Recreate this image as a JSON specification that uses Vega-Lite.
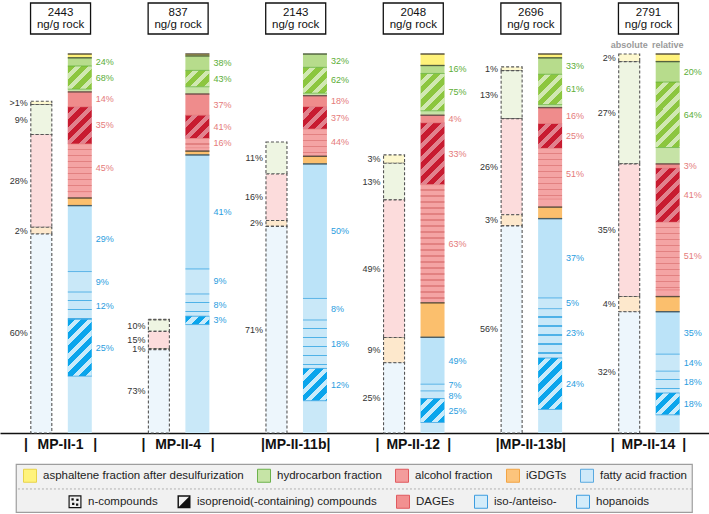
{
  "$schema": "https://vega.github.io/schema/vega-lite/v6.json",
  "padding": {"left": 0, "top": 2, "right": 0, "bottom": 0},
  "background": "white",
  "config": {"view": {"stroke": null}, "font": "Liberation Sans"},
  "params": [
    {"name": "stripeStops", "value": [
      {"offset": 0, "color": "rgba(255,255,255,0)"}, {"offset": 0.06875, "color": "rgba(255,255,255,0)"}, {"offset": 0.06875, "color": "#ffffff"}, {"offset": 0.125, "color": "#ffffff"},
      {"offset": 0.125, "color": "rgba(255,255,255,0)"}, {"offset": 0.19375, "color": "rgba(255,255,255,0)"}, {"offset": 0.19375, "color": "#ffffff"}, {"offset": 0.25, "color": "#ffffff"},
      {"offset": 0.25, "color": "rgba(255,255,255,0)"}, {"offset": 0.31875, "color": "rgba(255,255,255,0)"}, {"offset": 0.31875, "color": "#ffffff"}, {"offset": 0.375, "color": "#ffffff"},
      {"offset": 0.375, "color": "rgba(255,255,255,0)"}, {"offset": 0.44375, "color": "rgba(255,255,255,0)"}, {"offset": 0.44375, "color": "#ffffff"}, {"offset": 0.5, "color": "#ffffff"},
      {"offset": 0.5, "color": "rgba(255,255,255,0)"}, {"offset": 0.56875, "color": "rgba(255,255,255,0)"}, {"offset": 0.56875, "color": "#ffffff"}, {"offset": 0.625, "color": "#ffffff"},
      {"offset": 0.625, "color": "rgba(255,255,255,0)"}, {"offset": 0.69375, "color": "rgba(255,255,255,0)"}, {"offset": 0.69375, "color": "#ffffff"}, {"offset": 0.75, "color": "#ffffff"},
      {"offset": 0.75, "color": "rgba(255,255,255,0)"}, {"offset": 0.81875, "color": "rgba(255,255,255,0)"}, {"offset": 0.81875, "color": "#ffffff"}, {"offset": 0.875, "color": "#ffffff"},
      {"offset": 0.875, "color": "rgba(255,255,255,0)"}, {"offset": 0.94375, "color": "rgba(255,255,255,0)"}, {"offset": 0.94375, "color": "#ffffff"}, {"offset": 1, "color": "#ffffff"}
    ]},
    {"name": "dageStops", "value": [
      {"offset": 0, "color": "rgba(184,48,48,0)"}, {"offset": 0.04, "color": "rgba(184,48,48,0)"}, {"offset": 0.04, "color": "#b83030"}, {"offset": 0.05, "color": "#b83030"},
      {"offset": 0.05, "color": "rgba(184,48,48,0)"}, {"offset": 0.09, "color": "rgba(184,48,48,0)"}, {"offset": 0.09, "color": "#b83030"}, {"offset": 0.1, "color": "#b83030"},
      {"offset": 0.1, "color": "rgba(184,48,48,0)"}, {"offset": 0.14, "color": "rgba(184,48,48,0)"}, {"offset": 0.14, "color": "#b83030"}, {"offset": 0.15, "color": "#b83030"},
      {"offset": 0.15, "color": "rgba(184,48,48,0)"}, {"offset": 0.19, "color": "rgba(184,48,48,0)"}, {"offset": 0.19, "color": "#b83030"}, {"offset": 0.2, "color": "#b83030"},
      {"offset": 0.2, "color": "rgba(184,48,48,0)"}, {"offset": 0.24, "color": "rgba(184,48,48,0)"}, {"offset": 0.24, "color": "#b83030"}, {"offset": 0.25, "color": "#b83030"},
      {"offset": 0.25, "color": "rgba(184,48,48,0)"}, {"offset": 0.29, "color": "rgba(184,48,48,0)"}, {"offset": 0.29, "color": "#b83030"}, {"offset": 0.3, "color": "#b83030"},
      {"offset": 0.3, "color": "rgba(184,48,48,0)"}, {"offset": 0.34, "color": "rgba(184,48,48,0)"}, {"offset": 0.34, "color": "#b83030"}, {"offset": 0.35, "color": "#b83030"},
      {"offset": 0.35, "color": "rgba(184,48,48,0)"}, {"offset": 0.39, "color": "rgba(184,48,48,0)"}, {"offset": 0.39, "color": "#b83030"}, {"offset": 0.4, "color": "#b83030"},
      {"offset": 0.4, "color": "rgba(184,48,48,0)"}, {"offset": 0.44, "color": "rgba(184,48,48,0)"}, {"offset": 0.44, "color": "#b83030"}, {"offset": 0.45, "color": "#b83030"},
      {"offset": 0.45, "color": "rgba(184,48,48,0)"}, {"offset": 0.49, "color": "rgba(184,48,48,0)"}, {"offset": 0.49, "color": "#b83030"}, {"offset": 0.5, "color": "#b83030"},
      {"offset": 0.5, "color": "rgba(184,48,48,0)"}, {"offset": 0.54, "color": "rgba(184,48,48,0)"}, {"offset": 0.54, "color": "#b83030"}, {"offset": 0.55, "color": "#b83030"},
      {"offset": 0.55, "color": "rgba(184,48,48,0)"}, {"offset": 0.59, "color": "rgba(184,48,48,0)"}, {"offset": 0.59, "color": "#b83030"}, {"offset": 0.6, "color": "#b83030"},
      {"offset": 0.6, "color": "rgba(184,48,48,0)"}, {"offset": 0.64, "color": "rgba(184,48,48,0)"}, {"offset": 0.64, "color": "#b83030"}, {"offset": 0.65, "color": "#b83030"},
      {"offset": 0.65, "color": "rgba(184,48,48,0)"}, {"offset": 0.69, "color": "rgba(184,48,48,0)"}, {"offset": 0.69, "color": "#b83030"}, {"offset": 0.7, "color": "#b83030"},
      {"offset": 0.7, "color": "rgba(184,48,48,0)"}, {"offset": 0.74, "color": "rgba(184,48,48,0)"}, {"offset": 0.74, "color": "#b83030"}, {"offset": 0.75, "color": "#b83030"},
      {"offset": 0.75, "color": "rgba(184,48,48,0)"}, {"offset": 0.79, "color": "rgba(184,48,48,0)"}, {"offset": 0.79, "color": "#b83030"}, {"offset": 0.8, "color": "#b83030"},
      {"offset": 0.8, "color": "rgba(184,48,48,0)"}, {"offset": 0.84, "color": "rgba(184,48,48,0)"}, {"offset": 0.84, "color": "#b83030"}, {"offset": 0.85, "color": "#b83030"},
      {"offset": 0.85, "color": "rgba(184,48,48,0)"}, {"offset": 0.89, "color": "rgba(184,48,48,0)"}, {"offset": 0.89, "color": "#b83030"}, {"offset": 0.9, "color": "#b83030"},
      {"offset": 0.9, "color": "rgba(184,48,48,0)"}, {"offset": 0.94, "color": "rgba(184,48,48,0)"}, {"offset": 0.94, "color": "#b83030"}, {"offset": 0.95, "color": "#b83030"},
      {"offset": 0.95, "color": "rgba(184,48,48,0)"}, {"offset": 0.99, "color": "rgba(184,48,48,0)"}, {"offset": 0.99, "color": "#b83030"}, {"offset": 1, "color": "#b83030"}
    ]},
    {"name": "hopStops", "value": [
      {"offset": 0, "color": "rgba(27,155,224,0)"}, {"offset": 0.10625, "color": "rgba(27,155,224,0)"}, {"offset": 0.10625, "color": "#1b9be0"}, {"offset": 0.125, "color": "#1b9be0"},
      {"offset": 0.125, "color": "rgba(27,155,224,0)"}, {"offset": 0.23125, "color": "rgba(27,155,224,0)"}, {"offset": 0.23125, "color": "#1b9be0"}, {"offset": 0.25, "color": "#1b9be0"},
      {"offset": 0.25, "color": "rgba(27,155,224,0)"}, {"offset": 0.35625, "color": "rgba(27,155,224,0)"}, {"offset": 0.35625, "color": "#1b9be0"}, {"offset": 0.375, "color": "#1b9be0"},
      {"offset": 0.375, "color": "rgba(27,155,224,0)"}, {"offset": 0.48125, "color": "rgba(27,155,224,0)"}, {"offset": 0.48125, "color": "#1b9be0"}, {"offset": 0.5, "color": "#1b9be0"},
      {"offset": 0.5, "color": "rgba(27,155,224,0)"}, {"offset": 0.60625, "color": "rgba(27,155,224,0)"}, {"offset": 0.60625, "color": "#1b9be0"}, {"offset": 0.625, "color": "#1b9be0"},
      {"offset": 0.625, "color": "rgba(27,155,224,0)"}, {"offset": 0.73125, "color": "rgba(27,155,224,0)"}, {"offset": 0.73125, "color": "#1b9be0"}, {"offset": 0.75, "color": "#1b9be0"},
      {"offset": 0.75, "color": "rgba(27,155,224,0)"}, {"offset": 0.85625, "color": "rgba(27,155,224,0)"}, {"offset": 0.85625, "color": "#1b9be0"}, {"offset": 0.875, "color": "#1b9be0"},
      {"offset": 0.875, "color": "rgba(27,155,224,0)"}, {"offset": 0.98125, "color": "rgba(27,155,224,0)"}, {"offset": 0.98125, "color": "#1b9be0"}, {"offset": 1, "color": "#1b9be0"}
    ]}
  ],
  "datasets": {
    "samples": [
      {"sample": "MP-II-1", "conc": 2443},
      {"sample": "MP-II-4", "conc": 837},
      {"sample": "MP-II-11b", "conc": 2143},
      {"sample": "MP-II-12", "conc": 2048},
      {"sample": "MP-II-13b", "conc": 2696},
      {"sample": "MP-II-14", "conc": 2791}
    ],
    "fractions": [
      {"sample": "MP-II-1", "frac": "asph", "share": 1, "label": ">1%"},
      {"sample": "MP-II-1", "frac": "hc", "share": 9, "label": "9%"},
      {"sample": "MP-II-1", "frac": "alc", "share": 28, "label": "28%"},
      {"sample": "MP-II-1", "frac": "gdgt", "share": 2, "label": "2%"},
      {"sample": "MP-II-1", "frac": "fa", "share": 60, "label": "60%"},
      {"sample": "MP-II-4", "frac": "asph", "share": 0.5, "label": ""},
      {"sample": "MP-II-4", "frac": "hc", "share": 10, "label": "10%"},
      {"sample": "MP-II-4", "frac": "alc", "share": 15, "label": "15%"},
      {"sample": "MP-II-4", "frac": "gdgt", "share": 1, "label": "1%"},
      {"sample": "MP-II-4", "frac": "fa", "share": 73, "label": "73%"},
      {"sample": "MP-II-11b", "frac": "hc", "share": 11, "label": "11%"},
      {"sample": "MP-II-11b", "frac": "alc", "share": 16, "label": "16%"},
      {"sample": "MP-II-11b", "frac": "gdgt", "share": 2, "label": "2%"},
      {"sample": "MP-II-11b", "frac": "fa", "share": 71, "label": "71%"},
      {"sample": "MP-II-12", "frac": "asph", "share": 3, "label": "3%"},
      {"sample": "MP-II-12", "frac": "hc", "share": 13, "label": "13%"},
      {"sample": "MP-II-12", "frac": "alc", "share": 49, "label": "49%"},
      {"sample": "MP-II-12", "frac": "gdgt", "share": 9, "label": "9%"},
      {"sample": "MP-II-12", "frac": "fa", "share": 25, "label": "25%"},
      {"sample": "MP-II-13b", "frac": "asph", "share": 1, "label": "1%"},
      {"sample": "MP-II-13b", "frac": "hc", "share": 13, "label": "13%"},
      {"sample": "MP-II-13b", "frac": "alc", "share": 26, "label": "26%"},
      {"sample": "MP-II-13b", "frac": "gdgt", "share": 3, "label": "3%"},
      {"sample": "MP-II-13b", "frac": "fa", "share": 56, "label": "56%"},
      {"sample": "MP-II-14", "frac": "asph", "share": 2, "label": "2%"},
      {"sample": "MP-II-14", "frac": "hc", "share": 27, "label": "27%"},
      {"sample": "MP-II-14", "frac": "alc", "share": 35, "label": "35%"},
      {"sample": "MP-II-14", "frac": "gdgt", "share": 4, "label": "4%"},
      {"sample": "MP-II-14", "frac": "fa", "share": 32, "label": "32%"}
    ],
    "parts": [
      {"sample": "MP-II-1", "frac": "asph", "share": 1, "comp": "all", "pct": 100},
      {"sample": "MP-II-1", "frac": "hc", "share": 9, "comp": "n", "pct": 24},
      {"sample": "MP-II-1", "frac": "hc", "share": 9, "comp": "iso", "pct": 68},
      {"sample": "MP-II-1", "frac": "hc", "share": 9, "comp": "rest", "pct": 8},
      {"sample": "MP-II-1", "frac": "alc", "share": 28, "comp": "n", "pct": 14},
      {"sample": "MP-II-1", "frac": "alc", "share": 28, "comp": "iso", "pct": 35},
      {"sample": "MP-II-1", "frac": "alc", "share": 28, "comp": "dage", "pct": 45},
      {"sample": "MP-II-1", "frac": "alc", "share": 28, "comp": "rest", "pct": 6},
      {"sample": "MP-II-1", "frac": "gdgt", "share": 2, "comp": "all", "pct": 100},
      {"sample": "MP-II-1", "frac": "fa", "share": 60, "comp": "n", "pct": 29},
      {"sample": "MP-II-1", "frac": "fa", "share": 60, "comp": "ia", "pct": 9},
      {"sample": "MP-II-1", "frac": "fa", "share": 60, "comp": "hop", "pct": 12},
      {"sample": "MP-II-1", "frac": "fa", "share": 60, "comp": "iso", "pct": 25},
      {"sample": "MP-II-1", "frac": "fa", "share": 60, "comp": "rest", "pct": 25},

      {"sample": "MP-II-4", "frac": "asph", "share": 0.5, "comp": "all", "pct": 100},
      {"sample": "MP-II-4", "frac": "hc", "share": 10, "comp": "n", "pct": 38},
      {"sample": "MP-II-4", "frac": "hc", "share": 10, "comp": "iso", "pct": 43},
      {"sample": "MP-II-4", "frac": "hc", "share": 10, "comp": "rest", "pct": 19},
      {"sample": "MP-II-4", "frac": "alc", "share": 15, "comp": "n", "pct": 37},
      {"sample": "MP-II-4", "frac": "alc", "share": 15, "comp": "iso", "pct": 41},
      {"sample": "MP-II-4", "frac": "alc", "share": 15, "comp": "dage", "pct": 16},
      {"sample": "MP-II-4", "frac": "alc", "share": 15, "comp": "rest", "pct": 6},
      {"sample": "MP-II-4", "frac": "gdgt", "share": 1, "comp": "all", "pct": 100},
      {"sample": "MP-II-4", "frac": "fa", "share": 73, "comp": "n", "pct": 41},
      {"sample": "MP-II-4", "frac": "fa", "share": 73, "comp": "ia", "pct": 9},
      {"sample": "MP-II-4", "frac": "fa", "share": 73, "comp": "hop", "pct": 8},
      {"sample": "MP-II-4", "frac": "fa", "share": 73, "comp": "iso", "pct": 3},
      {"sample": "MP-II-4", "frac": "fa", "share": 73, "comp": "rest", "pct": 39},

      {"sample": "MP-II-11b", "frac": "hc", "share": 11, "comp": "n", "pct": 32},
      {"sample": "MP-II-11b", "frac": "hc", "share": 11, "comp": "iso", "pct": 62},
      {"sample": "MP-II-11b", "frac": "hc", "share": 11, "comp": "rest", "pct": 6},
      {"sample": "MP-II-11b", "frac": "alc", "share": 16, "comp": "n", "pct": 18},
      {"sample": "MP-II-11b", "frac": "alc", "share": 16, "comp": "iso", "pct": 37},
      {"sample": "MP-II-11b", "frac": "alc", "share": 16, "comp": "dage", "pct": 44},
      {"sample": "MP-II-11b", "frac": "alc", "share": 16, "comp": "rest", "pct": 1},
      {"sample": "MP-II-11b", "frac": "gdgt", "share": 2, "comp": "all", "pct": 100},
      {"sample": "MP-II-11b", "frac": "fa", "share": 71, "comp": "n", "pct": 50},
      {"sample": "MP-II-11b", "frac": "fa", "share": 71, "comp": "ia", "pct": 8},
      {"sample": "MP-II-11b", "frac": "fa", "share": 71, "comp": "hop", "pct": 18},
      {"sample": "MP-II-11b", "frac": "fa", "share": 71, "comp": "iso", "pct": 12},
      {"sample": "MP-II-11b", "frac": "fa", "share": 71, "comp": "rest", "pct": 12},

      {"sample": "MP-II-12", "frac": "asph", "share": 3, "comp": "all", "pct": 100},
      {"sample": "MP-II-12", "frac": "hc", "share": 13, "comp": "n", "pct": 16},
      {"sample": "MP-II-12", "frac": "hc", "share": 13, "comp": "iso", "pct": 75},
      {"sample": "MP-II-12", "frac": "hc", "share": 13, "comp": "rest", "pct": 9},
      {"sample": "MP-II-12", "frac": "alc", "share": 49, "comp": "n", "pct": 4},
      {"sample": "MP-II-12", "frac": "alc", "share": 49, "comp": "iso", "pct": 33},
      {"sample": "MP-II-12", "frac": "alc", "share": 49, "comp": "dage", "pct": 63},
      {"sample": "MP-II-12", "frac": "gdgt", "share": 9, "comp": "all", "pct": 100},
      {"sample": "MP-II-12", "frac": "fa", "share": 25, "comp": "n", "pct": 49},
      {"sample": "MP-II-12", "frac": "fa", "share": 25, "comp": "ia", "pct": 7},
      {"sample": "MP-II-12", "frac": "fa", "share": 25, "comp": "hop", "pct": 8},
      {"sample": "MP-II-12", "frac": "fa", "share": 25, "comp": "iso", "pct": 25},
      {"sample": "MP-II-12", "frac": "fa", "share": 25, "comp": "rest", "pct": 11},

      {"sample": "MP-II-13b", "frac": "asph", "share": 1, "comp": "all", "pct": 100},
      {"sample": "MP-II-13b", "frac": "hc", "share": 13, "comp": "n", "pct": 33},
      {"sample": "MP-II-13b", "frac": "hc", "share": 13, "comp": "iso", "pct": 61},
      {"sample": "MP-II-13b", "frac": "hc", "share": 13, "comp": "rest", "pct": 6},
      {"sample": "MP-II-13b", "frac": "alc", "share": 26, "comp": "n", "pct": 16},
      {"sample": "MP-II-13b", "frac": "alc", "share": 26, "comp": "iso", "pct": 25},
      {"sample": "MP-II-13b", "frac": "alc", "share": 26, "comp": "dage", "pct": 51},
      {"sample": "MP-II-13b", "frac": "alc", "share": 26, "comp": "rest", "pct": 8},
      {"sample": "MP-II-13b", "frac": "gdgt", "share": 3, "comp": "all", "pct": 100},
      {"sample": "MP-II-13b", "frac": "fa", "share": 56, "comp": "n", "pct": 37},
      {"sample": "MP-II-13b", "frac": "fa", "share": 56, "comp": "ia", "pct": 5},
      {"sample": "MP-II-13b", "frac": "fa", "share": 56, "comp": "hop", "pct": 23},
      {"sample": "MP-II-13b", "frac": "fa", "share": 56, "comp": "iso", "pct": 24},
      {"sample": "MP-II-13b", "frac": "fa", "share": 56, "comp": "rest", "pct": 11},

      {"sample": "MP-II-14", "frac": "asph", "share": 2, "comp": "all", "pct": 100},
      {"sample": "MP-II-14", "frac": "hc", "share": 27, "comp": "n", "pct": 20},
      {"sample": "MP-II-14", "frac": "hc", "share": 27, "comp": "iso", "pct": 64},
      {"sample": "MP-II-14", "frac": "hc", "share": 27, "comp": "rest", "pct": 16},
      {"sample": "MP-II-14", "frac": "alc", "share": 35, "comp": "n", "pct": 3},
      {"sample": "MP-II-14", "frac": "alc", "share": 35, "comp": "iso", "pct": 41},
      {"sample": "MP-II-14", "frac": "alc", "share": 35, "comp": "dage", "pct": 51},
      {"sample": "MP-II-14", "frac": "alc", "share": 35, "comp": "rest", "pct": 5},
      {"sample": "MP-II-14", "frac": "gdgt", "share": 4, "comp": "all", "pct": 100},
      {"sample": "MP-II-14", "frac": "fa", "share": 32, "comp": "n", "pct": 35},
      {"sample": "MP-II-14", "frac": "fa", "share": 32, "comp": "ia", "pct": 14},
      {"sample": "MP-II-14", "frac": "fa", "share": 32, "comp": "hop", "pct": 18},
      {"sample": "MP-II-14", "frac": "fa", "share": 32, "comp": "iso", "pct": 18},
      {"sample": "MP-II-14", "frac": "fa", "share": 32, "comp": "rest", "pct": 15}
    ]
  },
  "center": true,
  "spacing": 12,
  "vconcat": [
    {
      "bounds": "flush",
      "spacing": 20,
      "vconcat": [
        {
          "width": 709,
          "height": 31,
          "data": {"name": "samples"},
          "encoding": {
            "x": {"field": "sample", "type": "nominal",
                  "scale": {"domain": ["MP-II-1", "MP-II-4", "MP-II-11b", "MP-II-12", "MP-II-13b", "MP-II-14"], "paddingInner": 0, "paddingOuter": 0.015},
                  "axis": null}
          },
          "layer": [
            {"mark": {"type": "bar", "width": 60, "fill": "#ffffff", "stroke": "#111111", "strokeWidth": 1.3}},
            {"mark": {"type": "text", "fontSize": 11.5, "dy": -6, "fill": "#111111"},
             "encoding": {"text": {"field": "conc", "type": "quantitative", "format": "d"}}},
            {"mark": {"type": "text", "fontSize": 11.5, "dy": 6.5, "fill": "#111111", "text": "ng/g rock"}}
          ]
        },
        {
          "width": 709,
          "height": 379,
          "encoding": {
            "x": {"field": "sample", "type": "nominal",
                  "scale": {"domain": ["MP-II-1", "MP-II-4", "MP-II-11b", "MP-II-12", "MP-II-13b", "MP-II-14"], "paddingInner": 0, "paddingOuter": 0.015},
                  "axis": {"title": null, "ticks": false, "domainColor": "#111111", "domainWidth": 1.6,
                           "labelFont": "Liberation Sans", "labelFontWeight": "bold", "labelFontSize": 14,
                           "labelColor": "#111111", "labelPadding": 4, "labelAngle": 0,
                           "labelExpr": "(datum.value == 'MP-II-11b' || datum.value == 'MP-II-13b') ? '|' + datum.value + '|' : (length(datum.value) > 7 ? '|\u2002' + datum.value + '\u2002|' : '|\u2002\u2009' + datum.value + '\u2009\u2002|')"}},
            "xOffset": {"field": "type", "type": "nominal",
                        "scale": {"domain": ["abs", "rel"], "paddingInner": 0.377, "paddingOuter": 0.716}}
          },
          "layer": [
            {
              "data": {"name": "fractions"},
              "transform": [
                {"lookup": "sample", "from": {"data": {"name": "samples"}, "key": "sample", "fields": ["conc"]}},
                {"calculate": "indexof(['fa','gdgt','alc','hc','asph'], datum.frac)", "as": "ord"},
                {"calculate": "'abs'", "as": "type"},
                {"stack": "share", "groupby": ["sample"], "sort": [{"field": "ord", "order": "ascending"}], "offset": "normalize", "as": ["n0", "n1"]},
                {"calculate": "datum.n0 * datum.conc", "as": "a0"},
                {"calculate": "datum.n1 * datum.conc", "as": "a1"},
                {"calculate": "(datum.a0 + datum.a1) / 2", "as": "amid"}
              ],
              "layer": [
                {"mark": {"type": "bar", "width": 21, "stroke": "#555555", "strokeWidth": 1.1, "strokeDash": [3, 2]},
                 "encoding": {
                   "y": {"field": "a0", "type": "quantitative", "scale": {"domain": [0, 2791], "nice": false}, "axis": null},
                   "y2": {"field": "a1"},
                   "fill": {"field": "frac", "type": "nominal",
                            "scale": {"domain": ["asph", "hc", "alc", "gdgt", "fa"], "range": ["#fdf8cf", "#eef5e2", "#fcdcdc", "#fde8cc", "#edf6fc"]},
                            "legend": null}
                 }},
                {"transform": [{"filter": "datum.label != ''"}],
                 "mark": {"type": "text", "align": "right", "baseline": "middle", "dx": -13.5, "fontSize": 9, "fill": "#333333"},
                 "encoding": {
                   "y": {"field": "amid", "type": "quantitative", "scale": {"domain": [0, 2791], "nice": false}, "axis": null},
                   "text": {"field": "label"}
                 }}
              ]
            },
            {
              "data": {"name": "parts"},
              "transform": [
                {"calculate": "indexof(['fa','gdgt','alc','hc','asph'], datum.frac) * 10 + indexof(['rest','dage','iso','hop','ia','n'], datum.comp)", "as": "ord"},
                {"calculate": "'rel'", "as": "type"},
                {"calculate": "datum.share * datum.pct / 100", "as": "seg"},
                {"calculate": "datum.frac + '|' + datum.comp", "as": "key"},
                {"stack": "seg", "groupby": ["sample"], "sort": [{"field": "ord", "order": "ascending"}], "offset": "normalize", "as": ["r0", "r1"]},
                {"calculate": "(datum.r0 + datum.r1) / 2", "as": "rmid"},
                {"calculate": "(datum.r1 - datum.r0) * 379", "as": "hpx"},
                {"calculate": "datum.pct + '%'", "as": "lab"}
              ],
              "encoding": {
                "y": {"field": "r0", "type": "quantitative", "scale": {"domain": [0, 1], "nice": false}, "axis": null},
                "y2": {"field": "r1"}
              },
              "layer": [
                {"mark": {"type": "bar"},
                 "encoding": {
                   "fill": {"field": "key", "type": "nominal",
                            "scale": {"domain": ["asph|all", "hc|n", "hc|iso", "hc|rest", "alc|n", "alc|iso", "alc|dage", "alc|rest", "gdgt|all", "fa|n", "fa|ia", "fa|hop", "fa|iso", "fa|rest"],
                                      "range": ["#fff27a", "#b7dc8c", "#8cc63f", "#c6e3a6", "#ef8c8c", "#c81b30", "#f4a4a4", "#f5a6a6", "#fbbf6d", "#bbe3f8", "#c9e8f8", "#c9e8f8", "#0aa5ec", "#c9e8f8"]},
                            "legend": null}
                 }},
                {"transform": [{"filter": "datum.comp == 'iso'"}],
                 "mark": {"type": "bar"},
                 "encoding": {
                   "fill": {"value": {"expr": "{gradient: 'linear', x1: 0, y1: 0, x2: 107.48 * 24 / (576 + datum.hpx * datum.hpx), y2: 107.48 * datum.hpx / (576 + datum.hpx * datum.hpx), stops: stripeStops}"}},
                   "fillOpacity": {"condition": [{"test": "datum.frac == 'hc'", "value": 0.6}, {"test": "datum.frac == 'alc'", "value": 0.45}], "value": 0.78}
                 }},
                {"transform": [{"filter": "datum.comp == 'dage'"}],
                 "mark": {"type": "bar", "fillOpacity": 0.3},
                 "encoding": {
                   "fill": {"value": {"expr": "{gradient: 'linear', x1: 0, y1: 0, x2: 0.000001, y2: 120 / datum.hpx, stops: dageStops}"}}
                 }},
                {"transform": [{"filter": "datum.comp == 'hop'"}],
                 "mark": {"type": "bar", "fillOpacity": 0.7},
                 "encoding": {
                   "fill": {"value": {"expr": "{gradient: 'linear', x1: 0, y1: 0, x2: 0.000001, y2: 72 / datum.hpx, stops: hopStops}"}}
                 }},
                {"mark": {"type": "tick", "thickness": 1, "size": 24},
                 "encoding": {
                   "y": {"field": "r1", "type": "quantitative", "scale": {"domain": [0, 1], "nice": false}, "axis": null},
                   "y2": null,
                   "color": {"field": "frac", "type": "nominal",
                             "scale": {"domain": ["asph", "hc", "alc", "gdgt", "fa"], "range": ["#6b5e2a", "#5cae37", "#e57b7b", "#8a6a3a", "#2a9de0"]},
                             "legend": null}
                 }},
                {"transform": [{"filter": "datum.comp != 'rest' && datum.comp != 'all'"}],
                 "mark": {"type": "text", "align": "left", "baseline": "middle", "dx": 16, "fontSize": 9,
                          "dy": {"expr": "datum.comp == 'ia' && datum.hpx < 8 ? -2.5 : (datum.comp == 'hop' && datum.hpx < 9 ? 1 : 0)"}},
                 "encoding": {
                   "y": {"field": "rmid", "type": "quantitative", "scale": {"domain": [0, 1], "nice": false}, "axis": null},
                   "y2": null,
                   "text": {"field": "lab"},
                   "color": {"field": "frac", "type": "nominal",
                             "scale": {"domain": ["hc", "alc", "fa"], "range": ["#36a94a", "#e2343f", "#3a94d6"]},
                             "legend": null}
                 }}
              ]
            },
            {
              "data": {"name": "fractions"},
              "transform": [
                {"calculate": "indexof(['fa','gdgt','alc','hc','asph'], datum.frac)", "as": "ord"},
                {"calculate": "'rel'", "as": "type"},
                {"stack": "share", "groupby": ["sample"], "sort": [{"field": "ord", "order": "ascending"}], "offset": "normalize", "as": ["n0", "n1"]}
              ],
              "mark": {"type": "tick", "thickness": 1.4, "size": 24, "color": "#3d3933"},
              "encoding": {
                "y": {"field": "n1", "type": "quantitative", "scale": {"domain": [0, 1], "nice": false}, "axis": null}
              }
            },
            {
              "data": {"values": [
                {"sample": "MP-II-14", "type": "abs", "head": "absolute"},
                {"sample": "MP-II-14", "type": "rel", "head": "relative"}
              ]},
              "mark": {"type": "text", "fontSize": 9, "fontWeight": "bold", "fill": "#9a9a9a", "baseline": "middle", "dy": -9},
              "encoding": {
                "y": {"datum": 1, "type": "quantitative", "scale": {"domain": [0, 1], "nice": false}, "axis": null},
                "text": {"field": "head"}
              }
            }
          ],
          "resolve": {"scale": {"y": "independent", "fill": "independent", "color": "independent", "fillOpacity": "independent"}}
        }
      ]
    },
    {
      "width": 676,
      "height": 48,
      "view": {"fill": "#f1f1f1", "stroke": "#9e9e9e", "strokeWidth": 1.2},
      "layer": [
        {
          "data": {"values": [{"line": "separator"}]},
          "mark": {"type": "rule", "stroke": "#b0b0b0", "strokeDash": [2, 2], "strokeWidth": 1},
          "encoding": {
            "y": {"datum": 0.48, "type": "quantitative", "scale": {"domain": [0, 1]}, "axis": null}
          }
        },
        {
          "data": {"values": []},
          "mark": {"type": "point", "filled": true, "shape": "square", "opacity": 1},
          "encoding": {
            "fill": {"field": "fraction", "type": "nominal",
                     "scale": {"domain": ["asphaltene fraction after desulfurization", "hydrocarbon fraction", "alcohol fraction", "iGDGTs", "fatty acid fraction"],
                               "range": ["#fff37c", "#c6e4a6", "#f39c9c", "#fcc47c", "#cfe9f9"]},
                     "legend": {"title": null, "orient": "none", "legendX": 23, "legendY": 465.5, "direction": "horizontal",
                                "symbolType": "square", "symbolSize": 169, "labelFont": "Liberation Sans", "labelFontSize": 11.5,
                                "labelColor": "#222222", "labelOffset": 6, "columnPadding": 11, "padding": 0, "labelLimit": 400,
                                "encoding": {"symbols": {
                                  "stroke": {"value": {"expr": "datum.value == 'asphaltene fraction after desulfurization' ? '#e8d34a' : datum.value == 'hydrocarbon fraction' ? '#6cb24c' : datum.value == 'alcohol fraction' ? '#e05a5f' : datum.value == 'iGDGTs' ? '#f2a444' : '#58a9e0'"}},
                                  "strokeWidth": {"value": 1}}}}},
            "shape": {"field": "compound", "type": "nominal",
                      "scale": {"domain": ["n-compounds", "isoprenoid(-containing) compounds", "DAGEs", "iso-/anteiso-", "hopanoids"],
                                "range": ["M-1,-1H1V1H-1Z M-0.82,-0.82V0.82H0.82V-0.82Z M-0.55,-0.55H-0.2V-0.2H-0.55Z M0.2,-0.45H0.55V-0.1H0.2Z M-0.45,0.15H-0.1V0.5H-0.45Z M0.15,0.25H0.5V0.6H0.15Z",
                                          "M-1,-1H1V1H-1Z M-0.78,-0.78V0.78H0.78V-0.78Z M1,-1L1,1L-1,1Z",
                                          "square", "square", "square"]},
                      "legend": {"title": null, "orient": "none", "legendX": 68, "legendY": 491.5, "direction": "horizontal",
                                 "symbolSize": 169, "labelFont": "Liberation Sans", "labelFontSize": 11.5,
                                 "labelColor": "#222222", "labelOffset": 6, "columnPadding": 17, "padding": 0, "labelLimit": 400,
                                 "encoding": {"symbols": {
                                   "fill": {"value": {"expr": "datum.value == 'DAGEs' ? '#f29090' : (datum.value == 'iso-/anteiso-' || datum.value == 'hopanoids') ? '#d3ecfa' : '#111111'"}},
                                   "stroke": {"value": {"expr": "datum.value == 'DAGEs' ? '#e05a5f' : (datum.value == 'iso-/anteiso-' || datum.value == 'hopanoids') ? '#3d9de0' : 'transparent'"}},
                                   "strokeWidth": {"value": 1},
                                   "opacity": {"value": 1}}}}}
          }
        }
      ]
    }
  ]
}
